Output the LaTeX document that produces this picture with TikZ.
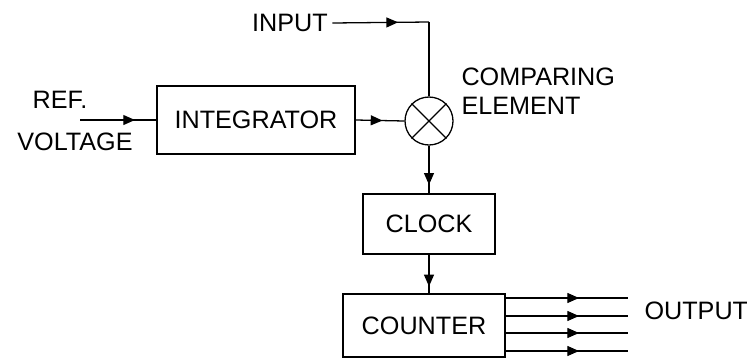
\documentclass[tikz,border=0pt]{standalone}
\usepackage{fontspec}
\setmainfont{Liberation Sans}
\usetikzlibrary{arrows.meta,decorations.markings}
\tikzset{
  blk/.style={draw, line width=1.1pt, inner sep=0pt},
  tip pos/.style={postaction={decorate}, decoration={markings,
    mark=at position #1 with {\arrow{Triangle[length=10pt,width=8.5pt]}}}}
}
\begin{document}
\begin{tikzpicture}[x=0.03cm, y=-0.03cm, line width=1.1pt, font=\fontsize{21.5}{25}\selectfont, line join=miter]
\useasboundingbox (0,0) rectangle (747,358);
\node[blk, minimum width=5.94cm, minimum height=2.04cm] (integ) at (256,120) {INTEGRATOR};
\node[blk, circle, minimum size=1.44cm] (cmp) at (429,121) {};
\node[blk, minimum width=3.96cm, minimum height=1.8cm] (clock) at (429,224) {CLOCK};
\node[blk, minimum width=4.86cm, minimum height=1.89cm] (counter) at (424,325.5) {COUNTER};
\node (inp) at (290,23) {INPUT};
\node at (60,100) {REF.};
\node at (75,142) {VOLTAGE};
\node[anchor=west, align=left] at (457,91) {COMPARING\\ELEMENT};
\node[anchor=west] at (640,311) {OUTPUT};
\coordinate (refin) at (80,120);
\coordinate (corner) at (429,22);
\draw (cmp.north west) -- (cmp.south east) (cmp.north east) -- (cmp.south west);
\draw[tip pos=0.72] (refin) -- (integ.west);
\draw[tip pos=0.55] (integ.east) -- (cmp.west);
\draw[tip pos=0.68] (inp.east) -- (corner);
\draw (corner) -- (cmp.north);
\draw[tip pos=0.82] (cmp.south) -- (clock.north);
\draw[tip pos=0.82] (clock.south) -- (counter.north -| clock.south);
\foreach \y/\n in {298/1,316/2,333/3,351/4} {
  \coordinate (out\n) at (628,\y);
  \draw[tip pos=0.6] (counter.east |- out\n) -- (out\n);
}
\end{tikzpicture}
\end{document}
